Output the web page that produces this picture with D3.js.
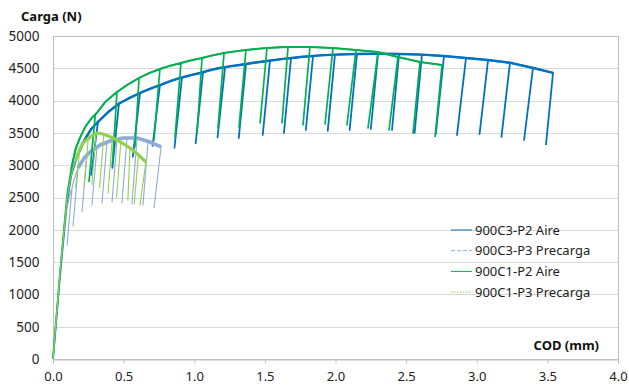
<!DOCTYPE html>
<html>
<head>
<meta charset="utf-8">
<script src="https://cdn.jsdelivr.net/npm/d3@7"></script>
<style>
  body { margin: 0; background: #fff; }
  svg { font-family: "Noto Sans", sans-serif; }
</style>
</head>
<body>
<div id="chart"></div>
<script>
// tick values
var xTicks = [0, 0.5, 1, 1.5, 2, 2.5, 3, 3.5, 4]
var yTicks = [0, 500, 1000, 1500, 2000, 2500, 3000, 3500, 4000, 4500, 5000]

var seriesNames = ["900C3-P2 Aire", "900C3-P3 Precarga", "900C1-P2 Aire", "900C1-P3 Precarga"]

// envelope points [COD mm, load N]
var c3p2Env = [[0, 0], [0.05, 1300], [0.1, 2450], [0.13, 2850], [0.17, 3130], [0.22, 3380], [0.27, 3560],
  [0.333, 3700], [0.4, 3840], [0.474, 3963], [0.55, 4050], [0.616, 4118], [0.69, 4185], [0.757, 4241],
  [0.83, 4300], [0.899, 4350], [0.97, 4390], [1.04, 4427], [1.11, 4470], [1.18, 4505], [1.25, 4530],
  [1.32, 4551], [1.42, 4585], [1.515, 4613], [1.63, 4645], [1.75, 4675], [1.89, 4700], [2.0, 4712],
  [2.15, 4722], [2.3, 4725], [2.45, 4722], [2.61, 4712], [2.77, 4690], [2.92, 4660], [3.08, 4628],
  [3.24, 4585], [3.4, 4505], [3.54, 4430]]
// unloading cycles [x top, load top, x bottom, load bottom]
var c3p2Unl = [[0.319, 3680, 0.27, 2850], [0.467, 3955, 0.42, 2960], [0.616, 4118, 0.565, 3130],
  [0.757, 4241, 0.705, 3300], [0.913, 4355, 0.86, 3270], [1.062, 4435, 1.01, 3340], [1.218, 4515, 1.165, 3430],
  [1.366, 4560, 1.315, 3420], [1.536, 4620, 1.485, 3467], [1.685, 4655, 1.635, 3498], [1.841, 4690, 1.79, 3545],
  [1.996, 4712, 1.945, 3530], [2.152, 4722, 2.10, 3545], [2.301, 4725, 2.25, 3560], [2.45, 4722, 2.40, 3545],
  [2.612, 4712, 2.56, 3500], [2.768, 4690, 2.71, 3480], [2.924, 4660, 2.86, 3467], [3.08, 4628, 3.02, 3483],
  [3.235, 4585, 3.175, 3437], [3.398, 4505, 3.335, 3390], [3.54, 4430, 3.49, 3313]]

var c3p3Env = [[0, 0], [0.05, 1350], [0.09, 2250], [0.12, 2550], [0.15, 2780], [0.177, 2957], [0.22, 3110],
  [0.262, 3204], [0.333, 3313], [0.404, 3375], [0.496, 3421], [0.595, 3421], [0.687, 3359], [0.765, 3282]]
var c3p3Unl = [[0.135, 2650, 0.099, 1760], [0.177, 2957, 0.142, 2060], [0.241, 3160, 0.205, 2275],
  [0.312, 3290, 0.276, 2384], [0.382, 3360, 0.347, 2415], [0.453, 3400, 0.418, 2430], [0.524, 3421, 0.488, 2415],
  [0.595, 3421, 0.559, 2400], [0.673, 3370, 0.637, 2384], [0.765, 3282, 0.715, 2337]]

var c1p2Env = [[0, 0], [0.05, 1350], [0.1, 2550], [0.13, 2950], [0.16, 3250], [0.19, 3420], [0.23, 3600],
  [0.27, 3720], [0.31, 3808], [0.37, 3980], [0.453, 4133], [0.53, 4250], [0.609, 4350], [0.68, 4425],
  [0.757, 4489], [0.83, 4540], [0.906, 4582], [0.98, 4625], [1.055, 4659], [1.13, 4700], [1.211, 4737],
  [1.29, 4762], [1.366, 4783], [1.44, 4800], [1.515, 4814], [1.6, 4825], [1.664, 4830], [1.82, 4830],
  [1.982, 4814], [2.145, 4783], [2.301, 4752], [2.442, 4675], [2.598, 4598], [2.754, 4551]]
var c1p2Unl = [[0.30, 3790, 0.255, 2750], [0.453, 4133, 0.42, 3000], [0.609, 4350, 0.58, 3282],
  [0.757, 4489, 0.715, 3390], [0.906, 4582, 0.864, 3437], [1.055, 4659, 1.02, 3498], [1.211, 4737, 1.168, 3576],
  [1.366, 4783, 1.317, 3591], [1.515, 4814, 1.466, 3653], [1.664, 4830, 1.621, 3653], [1.819, 4830, 1.77, 3622],
  [1.982, 4814, 1.926, 3638], [2.145, 4783, 2.081, 3622], [2.301, 4752, 2.23, 3576], [2.442, 4675, 2.379, 3545],
  [2.598, 4598, 2.549, 3498], [2.754, 4551, 2.705, 3437]]

var c1p3Env = [[0, 0], [0.05, 1350], [0.1, 2500], [0.13, 2850], [0.16, 3080], [0.19, 3250], [0.212, 3344],
  [0.262, 3437], [0.312, 3498], [0.354, 3483], [0.4, 3445], [0.453, 3390], [0.5, 3330], [0.545, 3266],
  [0.6, 3170], [0.658, 3050]]
var c1p3Unl = [[0.19, 3250, 0.16, 2650], [0.25, 3420, 0.22, 2690], [0.305, 3495, 0.275, 2700],
  [0.36, 3480, 0.33, 2650], [0.42, 3425, 0.39, 2570], [0.48, 3355, 0.45, 2500], [0.545, 3266, 0.53, 2460],
  [0.605, 3160, 0.575, 2400], [0.658, 3050, 0.615, 2370]]

var W = 629, H = 385

var svg = d3.select("#chart").append("svg")
  .attr("width", W)
  .attr("height", H)

var x = d3.scaleLinear().domain([0, 4]).range([53, 618])
var y = d3.scaleLinear().domain([0, 5000]).range([359, 36])

// gridlines
svg.append("g")
  .selectAll("line")
  .data(yTicks.slice(1, -1))
  .enter()
  .append("line")
  .attr("x1", x(0)).attr("x2", x(4))
  .attr("y1", d => Math.round(y(d)) + 0.5)
  .attr("y2", d => Math.round(y(d)) + 0.5)
  .attr("stroke", "#d9d9d9")

// plot border
svg.append("rect")
  .attr("x", x(0) + 0.5).attr("y", Math.round(y(5000)) + 0.5)
  .attr("width", x(4) - x(0)).attr("height", y(0) - y(5000))
  .attr("fill", "none").attr("stroke", "#bfbfbf")

// axes
var xAxis = svg.append("g")
  .attr("transform", "translate(0," + (Math.round(y(0)) + 0.5) + ")")
  .call(d3.axisBottom(x).tickValues(xTicks).tickFormat(d3.format(".1f")).tickSizeOuter(0).tickSize(4).tickPadding(8))
xAxis.select(".domain").attr("stroke", "#bfbfbf")
xAxis.selectAll(".tick line").attr("stroke", "#bfbfbf")
xAxis.selectAll("text").attr("font-size", "13px").attr("fill", "#222")
  .attr("font-family", "Noto Sans")

var yAxis = svg.append("g")
  .attr("transform", "translate(" + (x(0) + 0.5) + ",0)")
  .call(d3.axisLeft(y).tickValues(yTicks).tickFormat(d3.format("d")).tickSize(0).tickPadding(14))
yAxis.select(".domain").remove()
yAxis.selectAll("text").attr("font-size", "13.5px").attr("fill", "#222")
  .attr("font-family", "Noto Sans")

// titles
svg.append("text").attr("x", 21).attr("y", 21)
  .attr("font-size", "13px").attr("font-weight", "bold").attr("fill", "#111")
  .text("Carga (N)")
svg.append("text").attr("x", 599).attr("y", 350).attr("text-anchor", "end")
  .attr("font-size", "13px").attr("font-weight", "bold").attr("fill", "#111")
  .text("COD (mm)")

// merge envelope and unloading cycles into one path
function buildPoints(env, unl) {
  var pts = []
  var k = 0
  env.forEach(function(p) {
    while (k < unl.length && unl[k][0] < p[0]) {
      pts.push([unl[k][0], unl[k][1]], [unl[k][2], unl[k][3]], [unl[k][0], unl[k][1]])
      k++
    }
    pts.push(p)
  })
  for (; k < unl.length; k++) {
    pts.push([unl[k][0], unl[k][1]], [unl[k][2], unl[k][3]])
  }
  return pts
}

var line = d3.line().x(d => x(d[0])).y(d => y(d[1]))

var series = [
  {env: c3p2Env, unl: c3p2Unl, color: "#0070c0", w: 1.8, envW: 2.4, dash: null},
  {env: c3p3Env, unl: c3p3Unl, color: "#8eaadb", w: 1.1, envW: 3.6, dash: "4,2"},
  {env: c1p2Env, unl: c1p2Unl, color: "#00b050", w: 1.7, envW: 1.9, dash: null},
  {env: c1p3Env, unl: c1p3Unl, color: "#92d050", w: 1.1, envW: 3.2, dash: "1.5,1.5"}
]

series.forEach(function(s) {
  svg.append("path")
    .attr("d", line(buildPoints(s.env, s.unl)))
    .attr("fill", "none")
    .attr("stroke", s.color)
    .attr("stroke-width", s.w)
    .attr("stroke-linejoin", "round")
  // noisy envelope looks thicker
  svg.append("path")
    .attr("d", line(s.env.filter(p => p[1] > 2900)))
    .attr("fill", "none")
    .attr("stroke", s.color)
    .attr("stroke-width", s.envW)
    .attr("stroke-linejoin", "round")
})

// legend
var legend = svg.append("g")
seriesNames.forEach(function(name, i) {
  var ly = 230 + i * 20.7
  legend.append("line")
    .attr("x1", 451).attr("x2", 472).attr("y1", ly).attr("y2", ly)
    .attr("stroke", series[i].color)
    .attr("stroke-width", 1)
    .attr("stroke-dasharray", series[i].dash)
  legend.append("text")
    .attr("x", 475).attr("y", ly + 4.5)
    .attr("font-size", "13px").attr("fill", "#222")
    .text(name)
})
</script>
</body>
</html>
